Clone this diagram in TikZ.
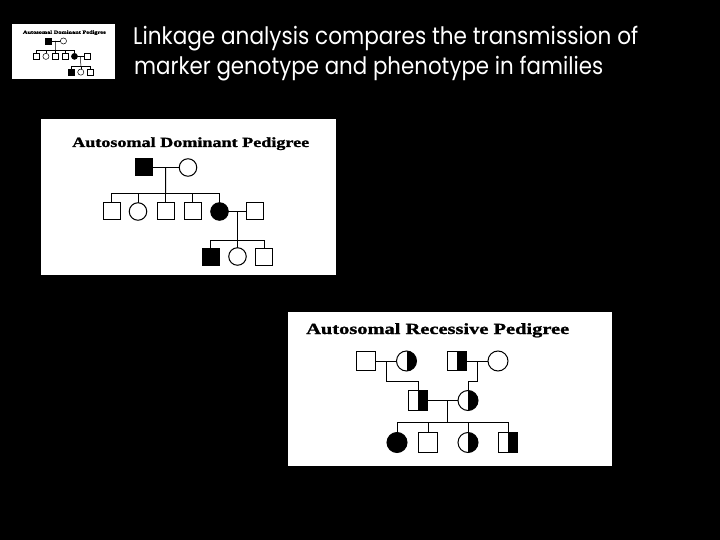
\documentclass[tikz,border=0pt]{standalone}
\usepackage{fontspec}
\usepackage{graphicx}
\setmainfont{Liberation Serif}
\newfontfamily\titlefont{Liberation Serif Bold}[FakeBold=1.2]
\newfontfamily\headfont{Poppins}
\usetikzlibrary{calc}
\tikzset{
  pedline/.style={line width=1pt, draw=black},
  sqd/.style={draw=black, line width=1pt, fill=white, minimum size=17pt, inner sep=0pt, outer sep=0pt},
  cid/.style={circle, draw=black, line width=1pt, fill=white, minimum size=17.5pt, inner sep=0pt, outer sep=0pt},
  sqr/.style={sqd, minimum size=19.5pt},
  cir/.style={cid, minimum size=20pt},
  affected/.style={fill=black},
  carrier/.style={path picture={\fill[black] (path picture bounding box.north) rectangle (path picture bounding box.south east);}},
  panel/.style={fill=white, draw=none},
  headtext/.style={text=white, anchor=base west, inner sep=0pt, font=\headfont\fontsize{24}{24}\selectfont},
}
\newcommand{\dompedigree}[1]{%
  \fill[panel] (41,119) rectangle (336,275);
  \node[anchor=base west, inner sep=0pt] (#1T) at (72,147)
    {\resizebox{237pt}{\height}{\titlefont\fontsize{14}{14}\selectfont Autosomal Dominant Pedigree}};
  \node[sqd, affected] (#1F) at (143.5,167.5) {};
  \node[cid] (#1M) at (188,167.5) {};
  \draw[pedline] (#1F.east) -- (#1M.west);
  \coordinate (#1d1) at ($(#1F.east)!0.5!(#1M.west)$);
  \coordinate (#1b1) at (165.5,194);
  \node[sqd] (#1c1) at (111.5,211.5) {};
  \node[cid] (#1c2) at (138,211.5) {};
  \node[sqd] (#1c3) at (165.5,211.5) {};
  \node[sqd] (#1c4) at (192.5,211.5) {};
  \node[cid, affected] (#1c5) at (219.5,211.5) {};
  \node[sqd] (#1s) at (255,211.5) {};
  \draw[pedline] (#1d1) -- (#1b1);
  \draw[pedline] (#1c1.north) |- (#1c5.north |- #1b1) -- (#1c5.north);
  \draw[pedline] (#1c2.north) -- (#1c2.north |- #1b1);
  \draw[pedline] (#1c3.north) -- (#1c3.north |- #1b1);
  \draw[pedline] (#1c4.north) -- (#1c4.north |- #1b1);
  \draw[pedline] (#1c5.east) -- (#1s.west);
  \coordinate (#1d2) at ($(#1c5.east)!0.5!(#1s.west)$);
  \coordinate (#1b2) at (#1d2 |- 0,240);
  \node[sqd, affected] (#1g1) at (210.5,256.5) {};
  \node[cid] (#1g2) at (237.5,256.5) {};
  \node[sqd] (#1g3) at (264,256.5) {};
  \draw[pedline] (#1d2) -- (#1b2);
  \draw[pedline] (#1g1.north) |- (#1g3.north |- #1b2) -- (#1g3.north);
  \draw[pedline] (#1g2.north) -- (#1g2.north |- #1b2);
}
\begin{document}
\begin{tikzpicture}[x=1pt, y=-1pt]
\fill[black] (0,0) rectangle (720,540);
\useasboundingbox (0,0) rectangle (720,540);

% thumbnail
\begin{scope}[shift={(-2.35,-17.65)}, scale=0.35, transform shape, pedline/.append style={line width=0.5pt}, sqd/.append style={line width=0.5pt}, cid/.append style={line width=0.5pt}]
  \dompedigree{t}
\end{scope}

% heading
\node[headtext] (h1) at (133,45) {\resizebox{505pt}{\height}{Linkage analysis compares the transmission of}};
\node[headtext] (h2) at (134,75) {\resizebox{469pt}{\height}{marker genotype and phenotype in families}};

% dominant pedigree
\dompedigree{d}

% recessive pedigree
\fill[panel] (288,312) rectangle (612,466);
\node[anchor=base west, inner sep=0pt] (rT) at (306,334)
  {\resizebox{263pt}{\height}{\titlefont\fontsize{15.5}{15.5}\selectfont Autosomal Recessive Pedigree}};
\node[sqr] (ra) at (366,361) {};
\node[cir, carrier] (rb) at (406.5,361) {};
\node[sqr, carrier] (rc) at (457,361) {};
\node[cir] (rd) at (498,361) {};
\node[sqr, carrier] (re) at (418,400.5) {};
\node[cir, carrier] (rf) at (468,400.5) {};
\draw[pedline] (ra.east) -- (rb.west);
\draw[pedline] (rc.east) -- (rd.west);
\draw[pedline] (re.east) -- (rf.west);
\coordinate (rm1) at ($(ra.east)!0.5!(rb.west)$);
\coordinate (rm2) at ($(rc.east)!0.5!(rd.west)$);
\coordinate (rm3) at (447,400.5);
\draw[pedline] (rm1) |- (re.north |- 0,381) -- (re.north);
\draw[pedline] (rm2) |- (rf.north |- 0,381) -- (rf.north);
\coordinate (rbar) at (447,422);
\node[cir, affected] (rg1) at (397,442.5) {};
\node[sqr] (rg2) at (428,442.5) {};
\node[cir, carrier] (rg3) at (468,442.5) {};
\node[sqr, carrier] (rg4) at (508,442.5) {};
\draw[pedline] (rm3) -- (rbar);
\draw[pedline] (rg1.north) |- (rg4.north |- rbar) -- (rg4.north);
\draw[pedline] (rg2.north) -- (rg2.north |- rbar);
\draw[pedline] (rg3.north) -- (rg3.north |- rbar);
\end{tikzpicture}
\end{document}
